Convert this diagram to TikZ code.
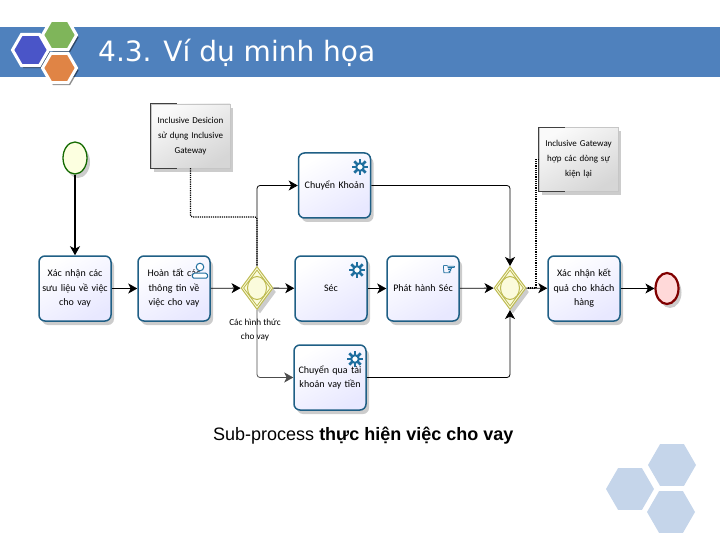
\documentclass[tikz,border=0pt]{standalone}
\usepackage{fontspec}
\setmainfont{Carlito}
\newfontfamily\titlefont{DejaVu Sans}
\newfontfamily\handfont[FakeBold=2]{DejaVu Sans}
\newfontfamily\capfont{Liberation Sans}
\usetikzlibrary{positioning,arrows.meta,shapes.geometric,shadows}
\definecolor{headblue}{HTML}{4F81BD}
\definecolor{taskline}{HTML}{1F5F85}
\definecolor{iconblue}{HTML}{1F6F9F}
\definecolor{gateline}{HTML}{BDBA50}
\definecolor{gatefill}{HTML}{FBFBDC}
\definecolor{footblue}{HTML}{C5D5EA}
\definecolor{hexblue}{HTML}{4A55C8}
\definecolor{hexgreen}{HTML}{7FB55A}
\definecolor{hexorange}{HTML}{E08445}
\tikzset{
  softshadow/.style={drop shadow={shadow xshift=3pt,shadow yshift=-4pt,opacity=0.2,fill=black}},
  flow/.style={-{Stealth[length=9pt,width=10pt,inset=2.5pt]},line width=0.8pt,black},
  assoc/.style={line width=1.2pt,densely dotted,black},
  taskbox/.style={rectangle,draw=taskline,line width=1.5pt,rounded corners=6pt,
    minimum width=72pt,minimum height=65pt,inner sep=1pt,align=center,text width=66pt,
    top color=white,bottom color=blue!9,shading angle=30,softshadow,
    font=\fontsize{10}{14.6}\selectfont},
  notebox/.style={rectangle,draw=gray!45,line width=0.4pt,minimum width=79pt,minimum height=64pt,
    inner sep=1pt,align=center,text width=76pt,top color=gray!4,bottom color=gray!32,
    shading angle=30,softshadow,font=\fontsize{9}{15}\selectfont},
  gate/.style={diamond,aspect=0.76,draw=gateline,line width=1pt,fill=gatefill,
    minimum width=32pt,minimum height=43pt,inner sep=0pt,softshadow},
  gatein/.style={diamond,aspect=0.76,draw=gateline,line width=0.8pt,
    minimum width=27pt,minimum height=36pt,inner sep=0pt},
  gatering/.style={ellipse,draw=gateline,line width=1pt,minimum width=19pt,minimum height=23pt,inner sep=0pt},
  gearpic/.pic={
    \foreach \a in {0,45,...,315}{\draw[iconblue,line width=2.6pt] (0,0)--(\a:8);}
    \draw[iconblue,line width=2pt,fill=white] (0,0) circle (3.8);
  },
  hexa/.style={regular polygon,regular polygon sides=6,inner sep=0pt},
  headhex/.style={hexa,draw=white,line width=3pt,
    drop shadow={shadow xshift=2pt,shadow yshift=-2.5pt,opacity=0.45,fill=black}},
  foothex/.style={hexa,fill=footblue,minimum size=48pt},
}
\begin{document}
\begin{tikzpicture}[x=1pt,y=-1pt]
  \useasboundingbox (0,0) rectangle (720,540);
  % ---- header ----
  \fill[headblue] (0,27) rectangle (720,77);
  \node[headhex,fill=hexblue,minimum size=36pt] (hexa) at (30.5,50) {};
  \node[headhex,fill=hexgreen,minimum size=34pt] (hexb) at (59.5,35) {};
  \node[headhex,fill=hexorange,minimum size=34pt] (hexc) at (59.5,68) {};
  \node[anchor=west,inner sep=0pt,text=white,font=\titlefont\fontsize{28}{28}\selectfont] (title) at (98,53) {4.3. Ví dụ minh họa};
  % ---- events and tasks ----
  \node[ellipse,draw=green!40!black!85!olive,line width=1.3pt,fill=green!10!yellow!12!white,minimum width=24pt,minimum height=32pt,inner sep=0pt,softshadow] (start) at (75,158) {};
  \node[taskbox] (xacnhan) at (75,288.5) {Xác nhận các\\sưu liệu về việc\\cho vay};
  \node[taskbox] (hoantat) at (174,288.5) {Hoàn tất các\\thông tin về\\việc cho vay};
  \node[taskbox] (chuyenkhoan) at (334.5,185.5) {Chuyển Khoản};
  \node[taskbox] (sec) at (331,288.5) {Séc};
  \node[taskbox] (chuyenqua) at (330,377.5) {Chuyển qua tài\\khoản vay tiền};
  \node[taskbox] (phathanh) at (423,288.5) {Phát hành Séc};
  \node[taskbox] (ketqua) at (584,288.5) {Xác nhận kết\\quả cho khách\\hàng};
  \node[ellipse,draw=red!50!black,line width=2.2pt,fill=red!15!white,minimum width=23pt,minimum height=31pt,inner sep=0pt,softshadow] (stop) at (667,288.5) {};
  % ---- gateways ----
  \node[gate] (gatea) at (257,288) {};
  \node[gatein] at (257,288) {};
  \node[gatering] at (257,288) {};
  \node[gate] (gateb) at (510,288) {};
  \node[gatein] at (510,288) {};
  \node[gatering] at (510,288) {};
  \node[align=center,font=\fontsize{9.2}{14.5}\selectfont] (gatelbl) at (255,330) {Các hình thức\\cho vay};
  % ---- notes ----
  \node[notebox] (notea) at (190.5,136) {Inclusive Desicion\\sử dụng Inclusive\\Gateway};
  \node[notebox] (noteb) at (578.5,159.5) {Inclusive Gateway\\hợp các dòng sự\\kiện lại};
  \draw[line width=0.8pt,black!75] ([xshift=26pt]notea.north west)--(notea.north west)--(notea.south west)--([xshift=26pt]notea.south west);
  \draw[line width=0.8pt,black!75] ([xshift=26pt]noteb.north west)--(noteb.north west)--(noteb.south west)--([xshift=26pt]noteb.south west);
  % ---- icons ----
  \pic at (360,167) {gearpic};
  \pic at (357,270) {gearpic};
  \pic at (355,359) {gearpic};
  \node[inner sep=0pt,text=iconblue,font=\handfont\fontsize{16}{16}\selectfont] (hand) at (449,270) {☞};
  \draw[iconblue,line width=1pt,fill=white] (200,267) circle (3.8);
  \draw[iconblue,line width=1pt,fill=white,rounded corners=1.5pt] (192,278)--(193,273)--(207,273)--(208,278)--cycle;
  % ---- sequence flows ----
  \draw[flow,line width=1.2pt] (start)--(xacnhan);
  \draw[flow] (xacnhan)--(hoantat);
  \draw[flow] (hoantat)--(gatea);
  \draw[flow] (gatea)--(sec);
  \draw[flow] (sec)--(phathanh);
  \draw[flow] (phathanh)--(gateb);
  \draw[flow] (gateb)--(ketqua);
  \draw[flow] (ketqua)--(stop);
  \draw[flow,rounded corners=3pt] (gatea.north) |- (chuyenkhoan.west);
  \draw[flow,black!70,rounded corners=3pt] (gatea.south) |- (chuyenqua.west);
  \draw[flow,rounded corners=3pt] (chuyenkhoan.east) -| (gateb.north);
  \draw[flow,rounded corners=3pt] (chuyenqua.east) -| (gateb.south);
  % ---- associations ----
  \coordinate (bendb) at (536,288);
  \draw[assoc,rounded corners=2pt] (notea.south) |- (gatea.north |- 0,217) -- (gatea.north);
  \draw[assoc] (noteb.west) -| (bendb) -- (gateb.east);
  % ---- caption and footer ----
  \node[anchor=west,inner sep=0pt,font=\capfont\fontsize{18}{18}\selectfont] (caption) at (213,436) {Sub-process \textbf{thực hiện việc cho vay}};
  \node[foothex] (hexd) at (672,465) {};
  \node[foothex] (hexe) at (630,489) {};
  \node[foothex] (hexf) at (671,512) {};
\end{tikzpicture}
\end{document}
